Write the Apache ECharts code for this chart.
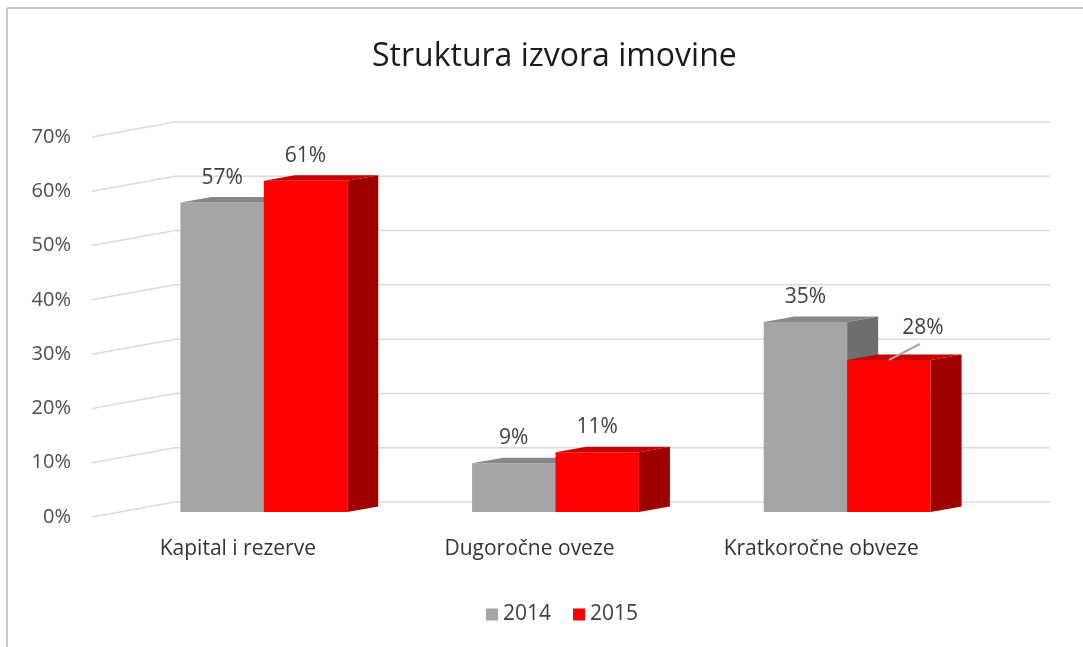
<!DOCTYPE html>
<html>
<head>
<meta charset="utf-8">
<script src="https://cdn.jsdelivr.net/npm/echarts@6/dist/echarts.min.js"></script>
<style>
  html, body { margin: 0; padding: 0; background: #fff; }
  #chart { width: 1083px; height: 647px; }
</style>
</head>
<body>
<div id="chart"></div>
<script>
const categories = ["Kapital i rezerve", "Dugoročne oveze", "Kratkoročne obveze"];
const years = ["2014", "2015"];
const values2014 = [57, 9, 35];
const values2015 = [61, 11, 28];
const yTicks = [0, 10, 20, 30, 40, 50, 60, 70];

// pseudo 3d: grid = front edge of the floor, walls pushed back by WALL
const WALL = [83, -15];
const BAR_OFF = [26, -5]; // front face of bars
const DEPTH = [31, -5.5]; // bar depth
const FONT = "Open Sans";

const palettes = [
  { front: "#a5a5a5", top: "#878787", side: "#6e6e6e" },
  { front: "#ff0000", top: "#c80000", side: "#9e0000" }
];

// label moved off the bar (Excel leader line) for 2015 / Kratkoročne
const movedLabel = { s: 1, c: 2, dx: 34, dy: -32 };

function wallItem(params, api) {
  const cs = params.coordSys;
  const y = api.coord([0, api.value(0)])[1];
  const lineStyle = { stroke: "#dadada", lineWidth: 1.5 };
  return {
    type: "group",
    children: [
      { type: "line", shape: { x1: cs.x, y1: y, x2: cs.x + WALL[0], y2: y + WALL[1] }, style: lineStyle },
      { type: "line", shape: { x1: cs.x + WALL[0], y1: y + WALL[1], x2: cs.x + cs.width + WALL[0], y2: y + WALL[1] }, style: lineStyle }
    ]
  };
}

function barItem(si) {
  const col = palettes[si];
  return function (params, api) {
    const c = api.value(0);
    const v = api.value(1);
    const band = api.size([1, 0])[0];
    const w = band * 0.286;
    const base = api.coord([c, 0]);
    const top = api.coord([c, v]);
    const x0 = base[0] + BAR_OFF[0] + (si === 0 ? -w : 0);
    const x1 = x0 + w;
    const yb = base[1] + BAR_OFF[1];
    const yt = top[1] + BAR_OFF[1];
    const dx = DEPTH[0], dy = DEPTH[1];
    const children = [
      { type: "polygon", shape: { points: [[x0, yt], [x1, yt], [x1, yb], [x0, yb]] }, style: { fill: col.front } },
      { type: "polygon", shape: { points: [[x0, yt], [x1, yt], [x1 + dx, yt + dy], [x0 + dx, yt + dy]] }, style: { fill: col.top } },
      { type: "polygon", shape: { points: [[x1, yt], [x1 + dx, yt + dy], [x1 + dx, yb + dy], [x1, yb]] }, style: { fill: col.side } }
    ];
    let lx = (x0 + x1) / 2;
    let ly = yt - 25;
    if (movedLabel.s === si && movedLabel.c === c) {
      children.push({
        type: "line",
        shape: { x1: lx, y1: yt, x2: lx + 31, y2: yt - 16 },
        style: { stroke: "#a6a6a6", lineWidth: 2 }
      });
      lx += movedLabel.dx;
      ly = yt + movedLabel.dy;
    }
    children.push({
      type: "text",
      style: {
        text: v + "%", x: lx, y: ly, align: "center", verticalAlign: "middle",
        fill: "#404040", fontSize: 21, fontFamily: FONT
      }
    });
    return { type: "group", children: children };
  };
}

const chart = echarts.init(document.getElementById("chart"));
chart.setOption({
  backgroundColor: "#fff",
  animation: false,
  title: {
    text: "Struktura izvora imovine",
    left: 367,
    top: 36,
    textStyle: { fontFamily: FONT, fontSize: 32, fontWeight: "normal", color: "#1a1a1a" }
  },
  legend: {
    data: years,
    bottom: 17,
    left: 481,
    icon: "rect",
    itemWidth: 12,
    itemHeight: 12,
    itemGap: 22,
    textStyle: { fontFamily: FONT, fontSize: 21, color: "#404040" }
  },
  grid: { left: 92, right: 116, top: 137, bottom: 130 },
  xAxis: {
    type: "category",
    data: categories,
    axisLine: { show: false },
    axisTick: { show: false },
    axisLabel: { margin: 22, fontFamily: FONT, fontSize: 21, color: "#333333" }
  },
  yAxis: {
    type: "value",
    min: 0,
    max: 70,
    interval: 10,
    splitLine: { show: false },
    axisLine: { show: false },
    axisLabel: { margin: 21, formatter: "{value}%", fontFamily: FONT, fontSize: 20, color: "#4d4d4d" }
  },
  graphic: [
    { type: "line", shape: { x1: 7, y1: 8, x2: 1083, y2: 8 }, style: { stroke: "#c8c8c8", lineWidth: 2 } },
    { type: "line", shape: { x1: 7, y1: 8, x2: 7, y2: 647 }, style: { stroke: "#c8c8c8", lineWidth: 2 } }
  ],
  series: [
    {
      type: "custom",
      silent: true,
      renderItem: wallItem,
      data: yTicks.map(t => [t]),
      encode: { y: 0 },
      z: 1
    },
    {
      name: years[0],
      type: "custom",
      renderItem: barItem(0),
      itemStyle: { color: palettes[0].front },
      data: values2014.map((v, i) => [i, v]),
      z: 2
    },
    {
      name: years[1],
      type: "custom",
      renderItem: barItem(1),
      itemStyle: { color: palettes[1].front },
      data: values2015.map((v, i) => [i, v]),
      z: 3
    }
  ]
});
</script>
</body>
</html>
